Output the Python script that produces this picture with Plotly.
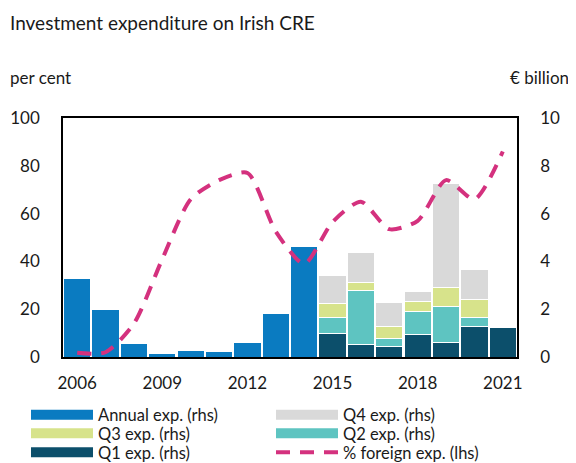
import plotly.graph_objects as go

years = list(range(2006, 2022))
annual = [3.3, 2.0, 0.55, 0.16, 0.28, 0.22, 0.62, 1.83, 4.62, None, None, None, None, None, None, None]
q1 = [None]*9 + [1.0, 0.54, 0.43, 0.95, 0.6, 1.27, 1.23]
q2 = [None]*9 + [0.67, 2.23, 0.34, 0.95, 1.5, 0.4, None]
q3 = [None]*9 + [0.56, 0.34, 0.5, 0.43, 0.8, 0.73, None]
q4 = [None]*9 + [1.17, 1.28, 1.02, 0.4, 4.34, 1.28, None]
foreign = [1.8, 2, 14, 41, 66, 74, 77, 52.5, 39, 56.5, 65, 53.5, 57, 74, 66, 86]

c_annual = "#0A7BC1"
c_q1 = "#0C4F6B"
c_q2 = "#5EC4C1"
c_q3 = "#D7E38B"
c_q4 = "#D9D9D9"
c_line = "#D4317E"
dash = "14px,10px"

font = "Lato, 'Open Sans', sans-serif"
fig = go.Figure()

def bar(vals, color, name):
    fig.add_trace(go.Bar(x=years, y=vals, name=name, marker=dict(color=color, line=dict(color="white", width=1)),
                         yaxis="y", showlegend=False))

bar(annual, c_annual, "Annual exp. (rhs)")
bar(q1, c_q1, "Q1 exp. (rhs)")
bar(q2, c_q2, "Q2 exp. (rhs)")
bar(q3, c_q3, "Q3 exp. (rhs)")
bar(q4, c_q4, "Q4 exp. (rhs)")

fig.add_trace(go.Scatter(x=years, y=foreign, mode="lines", yaxis="y2", showlegend=False,
                         line=dict(color=c_line, width=4, dash=dash, shape="spline", smoothing=0.7)))

# page body has an 8px margin: figure is drawn 8px right/down of the window origin
W, H = 568, 455
L, T = 55, 110
PW, PH = 454, 239

# legend entries: (name, color, is_line, legend id, x px, row center y px) in figure coords
leg = [("Annual exp. (rhs)", c_annual, False, "legend", 18, 407),
       ("Q4 exp. (rhs)", c_q4, False, "legend2", 263, 407),
       ("Q3 exp. (rhs)", c_q3, False, "legend3", 18, 425.5),
       ("Q2 exp. (rhs)", c_q2, False, "legend4", 263, 425.5),
       ("Q1 exp. (rhs)", c_q1, False, "legend5", 18, 444.5),
       ("% foreign exp. (lhs)", c_line, True, "legend6", 263, 444.5)]
legend_layouts = {}
for name, col, is_line, lid, lx, ly in leg:
    line = dict(color=col, width=4, dash=dash) if is_line else dict(color=col, width=10)
    fig.add_trace(go.Scatter(x=[None], y=[None], mode="lines", name=name, yaxis="y", legend=lid, line=line))
    legend_layouts[lid] = dict(x=lx / W, xref="container", y=1 - ly / H, yref="container",
                               xanchor="left", yanchor="middle", itemwidth=62, font=dict(size=16.5),
                               bgcolor="rgba(0,0,0,0)", borderwidth=0)

fig.update_layout(
    width=W, height=H,
    margin=dict(l=L, r=W - L - PW, t=T, b=H - T - PH, autoexpand=False),
    paper_bgcolor="white", plot_bgcolor="white",
    font=dict(family=font, size=17, color="#1a1a1a"),
    barmode="stack", bargap=0.04,
    showlegend=True,
    xaxis=dict(range=[2005.5, 2021.5], tickvals=[2006, 2009, 2012, 2015, 2018, 2021],
               showline=True, linecolor="black", linewidth=1.5, mirror=True, ticks="",
               showgrid=False, zeroline=False, ticklabelstandoff=10),
    yaxis=dict(range=[0, 10], side="right", tickvals=[0, 2, 4, 6, 8, 10], showgrid=False, zeroline=False,
               showline=True, linecolor="black", linewidth=1.5, ticks="", ticklabelstandoff=18),
    yaxis2=dict(range=[0, 100], side="left", overlaying="y", tickvals=[0, 20, 40, 60, 80, 100],
                showgrid=False, zeroline=False, showline=True, linecolor="black", linewidth=1.5,
                ticks="", ticklabelstandoff=18),
    **legend_layouts,
)
fig.add_annotation(text="Investment expenditure on Irish CRE", xref="paper", yref="paper",
                   x=(0 - L) / PW, y=1 + (T - 14) / PH, xanchor="left", yanchor="middle", showarrow=False,
                   font=dict(size=19))
fig.add_annotation(text="per cent", xref="paper", yref="paper",
                   x=(0 - L) / PW, y=1 + (T - 69) / PH, xanchor="left", yanchor="middle", showarrow=False,
                   font=dict(size=17))
fig.add_annotation(text="€ billion", xref="paper", yref="paper",
                   x=(563 - L) / PW, y=1 + (T - 69) / PH, xanchor="right", yanchor="middle", showarrow=False,
                   font=dict(size=17))

fig.write_html("out.html")
